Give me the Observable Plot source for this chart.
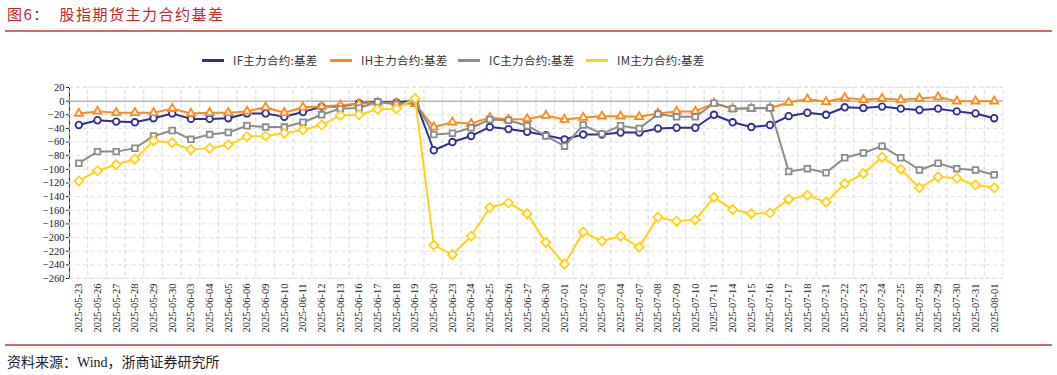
<!DOCTYPE html>
<html>
<head>
<meta charset="utf-8">
<script src="https://cdn.jsdelivr.net/npm/d3@7"></script>
<script src="https://cdn.jsdelivr.net/npm/@observablehq/plot@0.6"></script>
<style>
  html, body { margin: 0; padding: 0; background: #fff; }
  #page { position: relative; width: 1057px; height: 375px; overflow: hidden; }
  #title { position: absolute; left: 7px; top: 3px; font-family: "Noto Sans CJK SC", sans-serif; font-size: 15px; color: #c0282f; letter-spacing: 1.5px; white-space: pre; }
  .redline { position: absolute; left: 5px; width: 1047px; height: 2px; background: #d46a6a; }
  #legend { position: absolute; left: 202px; top: 52px; display: flex; font-family: "Noto Sans CJK SC", sans-serif; font-size: 11.5px; color: #333; letter-spacing: 0.3px; }
  .item { width: 128px; display: flex; align-items: center; }
  .sw { width: 22px; height: 3px; margin-right: 9px; }
  #chart { position: absolute; left: 0; top: 75px; }
  #source { position: absolute; left: 7px; top: 351px; font-family: "Liberation Serif", "Noto Sans CJK SC", serif; font-size: 14px; color: #222; }
</style>
</head>
<body>
<div id="page">
  <div id="title">图6：  股指期货主力合约基差</div>
  <div class="redline" style="top:30px"></div>
  <div id="legend"></div>
  <div id="chart"></div>
  <div class="redline" style="top:344px"></div>
  <div id="source">资料来源：Wind，浙商证券研究所</div>
</div>
<script>
const dates = [
  "2025-05-23","2025-05-26","2025-05-27","2025-05-28","2025-05-29","2025-05-30",
  "2025-06-03","2025-06-04","2025-06-05","2025-06-06","2025-06-09","2025-06-10","2025-06-11","2025-06-12","2025-06-13",
  "2025-06-16","2025-06-17","2025-06-18","2025-06-19","2025-06-20","2025-06-23","2025-06-24","2025-06-25","2025-06-26","2025-06-27","2025-06-30",
  "2025-07-01","2025-07-02","2025-07-03","2025-07-04","2025-07-07","2025-07-08","2025-07-09","2025-07-10","2025-07-11",
  "2025-07-14","2025-07-15","2025-07-16","2025-07-17","2025-07-18","2025-07-21","2025-07-22","2025-07-23","2025-07-24","2025-07-25",
  "2025-07-28","2025-07-29","2025-07-30","2025-07-31","2025-08-01"
];
const seriesNames = ["IF主力合约:基差","IH主力合约:基差","IC主力合约:基差","IM主力合约:基差"];
const seriesColors = ["#2f2f9a","#ff8a1c","#8c8c8c","#ffd21a"];
const seriesSymbols = ["circle","triangle","square","diamond2"];
const seriesR = [3.3, 3.0, 3.2, 4.1];
const ifBasis = [-35,-28,-30,-31,-25,-18,-26,-26,-25,-18,-18,-23,-16,-8,-8,-3,-1,-2,1,
  -72,-60,-51,-38,-41,-45,-50,-56,-49,-49,-46,-46,-40,-39,-39,-20,-31,-38,
  -35,-22,-17,-20,-9,-10,-8,-11,-13,-11,-15,-18,-25];
const ihBasis = [-18,-15,-17,-17,-17,-11,-18,-17,-17,-15,-9,-17,-9,-8,-6,-4,-2,-3,-4,
  -38,-31,-33,-24,-27,-26,-21,-27,-24,-22,-22,-23,-18,-15,-15,-3,-11,-11,
  -10,-2,3,-1,5,2,4,2,4,6,0,0,0];
const icBasis = [-91,-74,-74,-69,-51,-43,-56,-49,-46,-36,-38,-38,-31,-20,-11,-10,-1,-5,0,
  -49,-47,-39,-27,-28,-36,-51,-66,-35,-48,-36,-40,-19,-23,-23,-3,-11,-10,
  -10,-103,-99,-105,-83,-76,-66,-83,-101,-91,-99,-101,-108];
const imBasis = [-117,-102,-93,-85,-58,-61,-71,-69,-64,-52,-51,-47,-42,-35,-21,-20,-12,-11,4,
  -211,-225,-198,-156,-149,-165,-207,-239,-192,-205,-198,-214,-170,-176,-174,-141,-159,-165,
  -164,-144,-138,-148,-121,-106,-82,-100,-127,-111,-113,-123,-127];
const yTicks = [20,0,-20,-40,-60,-80,-100,-120,-140,-160,-180,-200,-220,-240,-260];

const allSeries = [ifBasis, ihBasis, icBasis, imBasis];

// legend
const legend = document.getElementById("legend");
seriesNames.forEach((n, i) => {
  const it = document.createElement("div");
  it.className = "item";
  it.innerHTML = `<span class="sw" style="background:${seriesColors[i]}"></span><span>${n}</span>`;
  legend.appendChild(it);
});

const marks = [
  Plot.barY(dates, {x: d => d, y1: yTicks[yTicks.length - 1], y2: yTicks[0], fill: "none", stroke: "#e0e0e0", strokeDasharray: "4,3", strokeWidth: 1}),
  Plot.ruleY(yTicks.filter(v => v !== 0), {stroke: "#e0e0e0", strokeDasharray: "4,3", strokeWidth: 1}),
  Plot.ruleY([0], {stroke: "#b4b4b4", strokeWidth: 1.5})
];
allSeries.forEach((vals, i) => {
  const data = dates.map((d, j) => ({date: d, value: vals[j]}));
  marks.push(Plot.line(data, {x: "date", y: "value", stroke: seriesColors[i], strokeWidth: 2}));
  marks.push(Plot.dot(data, {x: "date", y: "value", symbol: seriesSymbols[i], r: seriesR[i], stroke: seriesColors[i], strokeWidth: 1.8, fill: "white"}));
});

const chart = Plot.plot({
  width: 1057,
  height: 270,
  marginTop: 12,
  marginBottom: 67,
  marginLeft: 69,
  marginRight: 54,
  style: {fontFamily: "'Liberation Serif', 'Times New Roman', serif", fontSize: "10.5px", color: "#222", background: "transparent"},
  x: {type: "band", domain: dates, padding: 0, tickRotate: -90, tickSize: 0, tickPadding: 5, label: null},
  y: {domain: [-260, 20], ticks: yTicks, tickSize: 3, tickPadding: 2, label: null, line: true},
  marks
});
document.getElementById("chart").appendChild(chart);
</script>
</body>
</html>
